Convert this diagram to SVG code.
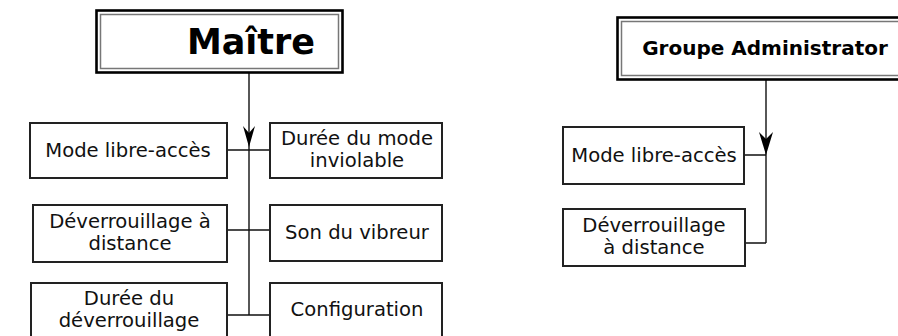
<svg xmlns="http://www.w3.org/2000/svg" width="898" height="336" viewBox="0 0 898 336">
<style>
.box{fill:#fff;stroke:#222;stroke-width:2}
.outer{fill:#fff;stroke:#000;stroke-width:2.6}
.inner{fill:none;stroke:#777;stroke-width:1.5}
.t{font-family:"DejaVu Sans","Liberation Sans",sans-serif;font-size:19.6px;fill:#111;text-anchor:middle}
.h{font-family:"DejaVu Sans","Liberation Sans",sans-serif;font-weight:bold;fill:#000;text-anchor:middle}
.c{fill:none;stroke:#111;stroke-width:1.4}
.ah{fill:#000;stroke:none}
</style>
<rect width="898" height="336" fill="#fff"/>
<g id="connectors">
<path class="c" d="M249,73 V315 M227,150 H270 M227,230 H270 M227,315 H270"/>
<path class="ah" d="M243,126 L249,133 L255,126 L249,147 Z"/>
<path class="c" d="M766,80 V243 M744,155 H766 M745,243 H766"/>
<path class="ah" d="M759,132 L766,139 L773,132 L766,155 Z"/>
</g>
<g id="maitre">
<rect class="outer" x="96.5" y="10.5" width="246" height="62"/>
<rect class="inner" x="100.5" y="14.5" width="238" height="54"/>
<text class="h" x="251" y="54" font-size="35">Maître</text>
</g>
<g id="m-libre">
<rect class="box" x="30" y="123" width="197" height="55"/>
<text class="t" x="128" y="157">Mode libre-accès</text>
</g>
<g id="m-deverrouillage">
<rect class="box" x="33" y="205" width="194" height="57"/>
<text class="t" x="130" y="228">Déverrouillage à</text>
<text class="t" x="130" y="250">distance</text>
</g>
<g id="m-duree-dev">
<rect class="box" x="31" y="283" width="196" height="70"/>
<text class="t" x="129" y="305">Durée du</text>
<text class="t" x="129" y="327">déverrouillage</text>
</g>
<g id="m-duree-mode">
<rect class="box" x="270" y="123" width="172" height="55"/>
<text class="t" x="357" y="145">Durée du mode</text>
<text class="t" x="357" y="167">inviolable</text>
</g>
<g id="m-son">
<rect class="box" x="270" y="205" width="172" height="56"/>
<text class="t" x="357" y="239">Son du vibreur</text>
</g>
<g id="m-config">
<rect class="box" x="270" y="283" width="172" height="70"/>
<text class="t" x="357" y="316">Configuration</text>
</g>
<g id="admin">
<rect class="outer" x="617.5" y="17.5" width="290" height="62"/>
<rect class="inner" x="621.5" y="21.5" width="282" height="54"/>
<text class="h" x="765" y="55" font-size="20">Groupe Administrator</text>
</g>
<g id="a-libre">
<rect class="box" x="563" y="127" width="181" height="57"/>
<text class="t" x="654" y="162">Mode libre-accès</text>
</g>
<g id="a-deverrouillage">
<rect class="box" x="563" y="209" width="182" height="57"/>
<text class="t" x="654" y="232">Déverrouillage</text>
<text class="t" x="654" y="254">à distance</text>
</g>
</svg>
